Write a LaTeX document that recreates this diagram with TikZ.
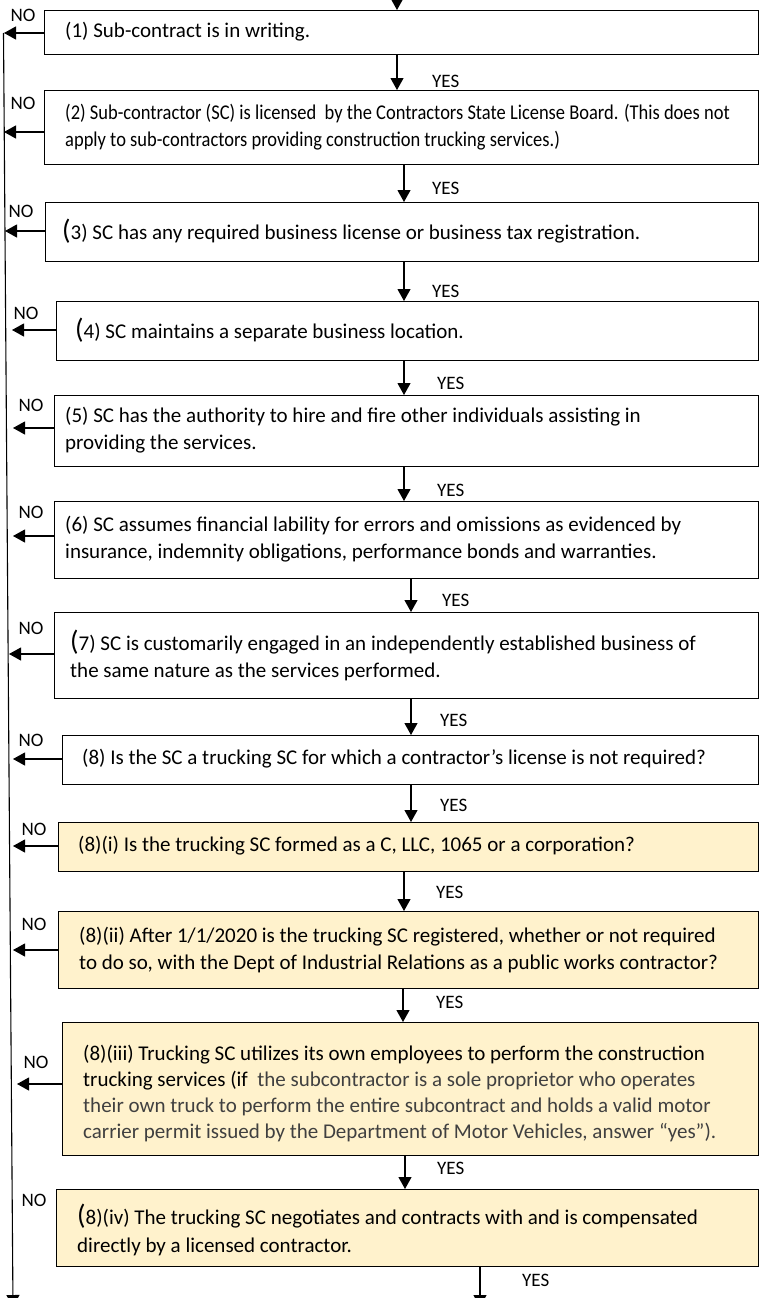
\documentclass[tikz,border=0pt]{standalone}
\usepackage{graphicx}
\usepackage{fontspec}
\setmainfont{Carlito}
\usetikzlibrary{arrows.meta}
\definecolor{beige}{HTML}{FFF2CC}
\definecolor{greytext}{HTML}{404040}
\begin{document}
\begin{tikzpicture}[x=1pt,y=-1pt,
  box/.style={draw=black, line width=1.1pt, anchor=north west, inner sep=0pt},
  tbox/.style={box, fill=beige},
  txt/.style={anchor=west, align=left, inner sep=0pt, font=\fontsize{21}{27}\selectfont},
  lbl/.style={anchor=west, inner sep=0pt, font=\fontsize{19}{22}\selectfont},
  nolbl/.style={inner sep=0pt, font=\fontsize{19}{22}\selectfont},
  flow/.style={line width=1.1pt, -{Triangle[width=13pt,length=12pt]}},
]
\newcommand{\bigp}{{\fontsize{28}{27}\selectfont(}}
\newcommand{\cond}[1]{\scalebox{0.88}[1]{#1}}
\useasboundingbox (0,0) rectangle (762,1298);

% boxes
\node[box, minimum width=714pt, minimum height=44pt] (b1) at (44,10) {};
\node[box, minimum width=714pt, minimum height=74pt] (b2) at (44,90) {};
\node[box, minimum width=713pt, minimum height=59pt] (b3) at (45,202) {};
\node[box, minimum width=702pt, minimum height=59pt] (b4) at (56,301) {};
\node[box, minimum width=704pt, minimum height=71pt] (b5) at (54,395) {};
\node[box, minimum width=704pt, minimum height=77pt] (b6) at (54,501) {};
\node[box, minimum width=704pt, minimum height=86pt] (b7) at (54,612) {};
\node[box, minimum width=696pt, minimum height=49pt] (b8) at (62,735) {};
\node[tbox, minimum width=700pt, minimum height=49pt] (b9) at (58,822) {};
\node[tbox, minimum width=700pt, minimum height=77pt] (b10) at (58,911) {};
\node[tbox, minimum width=696pt, minimum height=133pt] (b11) at (62,1022) {};
\node[tbox, minimum width=702pt, minimum height=77pt] (b12) at (56,1189) {};

% texts
\node[txt] (t1) at (65,32) {(1) Sub-contract is in writing.};
\node[txt] (t2) at (65,127) {\cond{(2) Sub-contractor (SC) is licensed\ \ by the Contractors State License Board. (This does not}\\\cond{apply to sub-contractors providing construction trucking services.)}};
\node[txt] (t3) at (62,231) {\bigp3) SC has any required business license or business tax registration.};
\node[txt] (t4) at (75,330) {\bigp4) SC maintains a separate business location.};
\node[txt] (t5) at (65,430) {(5) SC has the authority to hire and fire other individuals assisting in\\providing the services.};
\node[txt] (t6) at (65,539) {(6) SC assumes financial lability for errors and omissions as evidenced by\\insurance, indemnity obligations, performance bonds and warranties.};
\node[txt] (t7) at (70,655) {\bigp7) SC is customarily engaged in an independently established business of\\the same nature as the services performed.};
\node[txt] (t8) at (82,759) {(8) Is the SC a trucking SC for which a contractor’s license is not required?};
\node[txt] (t9) at (78,846) {(8)(i) Is the trucking SC formed as a C, LLC, 1065 or a corporation?};
\node[txt] (t10) at (79,950) {(8)(ii) After 1/1/2020 is the trucking SC registered, whether or not required\\to do so, with the Dept of Industrial Relations as a public works contractor?};
\node[txt, font=\fontsize{21}{26}\selectfont] (t11) at (83,1093) {(8)(iii) Trucking SC utilizes its own employees to perform the construction\\trucking services (if\ \ \textcolor{greytext}{the subcontractor is a sole proprietor who operates}\\\textcolor{greytext}{their own truck to perform the entire subcontract and holds a valid motor}\\\textcolor{greytext}{carrier permit issued by the Department of Motor Vehicles, answer “yes”).}};
\node[txt, font=\fontsize{21}{28}\selectfont] (t12) at (77,1230) {\bigp8)(iv) The trucking SC negotiates and contracts with and is compensated\\directly by a licensed contractor.};

% down connector x positions
\coordinate (c0) at (397,-6);
\coordinate (c1) at (397,0);
\coordinate (c2) at (404,0);
\coordinate (c3) at (404,0);
\coordinate (c4) at (404,0);
\coordinate (c5) at (404,0);
\coordinate (c6) at (411,0);
\coordinate (c7) at (411,0);
\coordinate (c8) at (411,0);
\coordinate (c9) at (404,0);
\coordinate (c10) at (403,0);
\coordinate (c11) at (405,0);
\coordinate (end) at (480,1307);

\draw[flow] (c0) -- (b1.north -| c0);
\draw[flow] (b1.south -| c1) -- (b2.north -| c1);
\draw[flow] (b2.south -| c2) -- (b3.north -| c2);
\draw[flow] (b3.south -| c3) -- (b4.north -| c3);
\draw[flow] (b4.south -| c4) -- (b5.north -| c4);
\draw[flow] (b5.south -| c5) -- (b6.north -| c5);
\draw[flow] (b6.south -| c6) -- (b7.north -| c6);
\draw[flow] (b7.south -| c7) -- (b8.north -| c7);
\draw[flow] (b8.south -| c8) -- (b9.north -| c8);
\draw[flow] (b9.south -| c9) -- (b10.north -| c9);
\draw[flow] (b10.south -| c10) -- (b11.north -| c10);
\draw[flow] (b11.south -| c11) -- (b12.north -| c11);
\draw[flow] (b12.south -| end) -- (end);

% YES labels
\node[lbl] (y1) at (432,81) {YES};
\node[lbl] (y2) at (432,188) {YES};
\node[lbl] (y3) at (432,291) {YES};
\node[lbl] (y4) at (437,383) {YES};
\node[lbl] (y5) at (437,490) {YES};
\node[lbl] (y6) at (442,600) {YES};
\node[lbl] (y7) at (440,720) {YES};
\node[lbl] (y8) at (440,805) {YES};
\node[lbl] (y9) at (436,892) {YES};
\node[lbl] (y10) at (436,1002) {YES};
\node[lbl] (y11) at (437,1168) {YES};
\node[lbl] (y12) at (522,1280) {YES};

% NO arrows
\coordinate (n1) at (4,33);
\coordinate (n2) at (4,132);
\coordinate (n3) at (5,231);
\coordinate (n4) at (12,330);
\coordinate (n5) at (13,428);
\coordinate (n6) at (13,536);
\coordinate (n7) at (9,654);
\coordinate (n8) at (13,759);
\coordinate (n9) at (13,846);
\coordinate (n10) at (13,950);
\coordinate (n11) at (17,1084);
\foreach \i in {1,...,11}{\draw[flow] (b\i.west |- n\i) -- (n\i);}

% NO labels
\node[nolbl] (o1) at (23,15) {NO};
\node[nolbl] (o2) at (23,103) {NO};
\node[nolbl] (o3) at (21,211) {NO};
\node[nolbl] (o4) at (26,313) {NO};
\node[nolbl] (o5) at (31,405) {NO};
\node[nolbl] (o6) at (31,512) {NO};
\node[nolbl] (o7) at (31,628) {NO};
\node[nolbl] (o8) at (31,740) {NO};
\node[nolbl] (o9) at (34,829) {NO};
\node[nolbl] (o10) at (34,924) {NO};
\node[nolbl] (o11) at (36,1062) {NO};
\node[nolbl] (o12) at (34,1200) {NO};

% left return line
\coordinate (ltop) at (3.5,33);
\coordinate (lbot) at (13,1307);
\draw[flow] (ltop) -- (lbot);
\end{tikzpicture}
\end{document}
